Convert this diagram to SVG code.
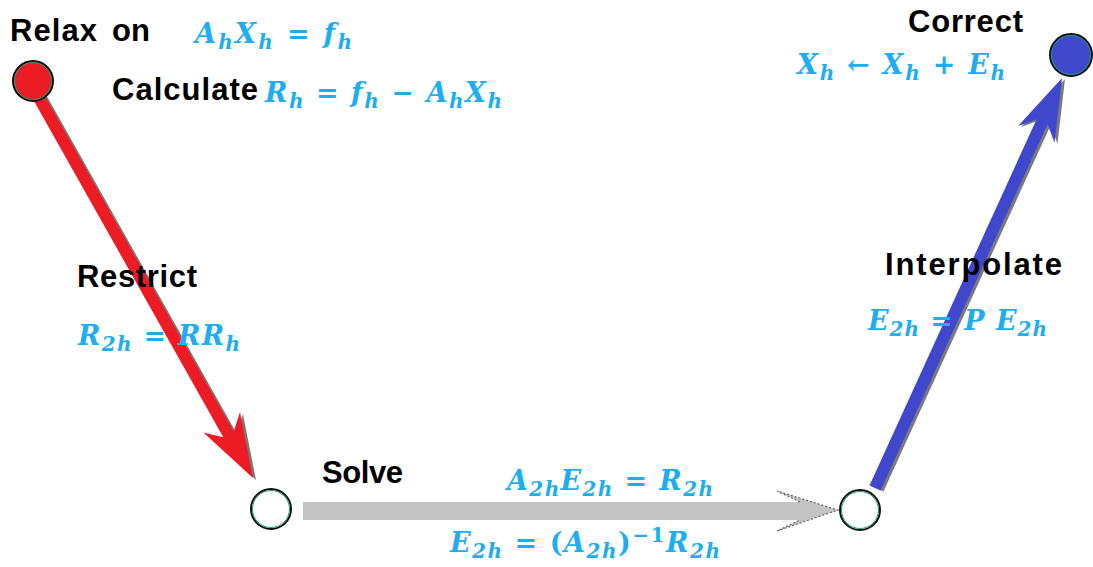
<svg xmlns="http://www.w3.org/2000/svg" width="1093" height="567" viewBox="0 0 1093 567">
<style>
.lbl{font-family:"Liberation Sans",Arial,sans-serif;font-weight:bold;font-size:31px;fill:#000}
.eq{font-family:"DejaVu Serif","Liberation Serif",serif;font-weight:bold;font-style:italic;font-size:27px;fill:#1eaef0}
.up{font-style:normal}
.s{font-size:20px}
.ring{stroke:#111;stroke-width:2}
.inner{fill:none;stroke:#1aa07a;stroke-width:1}
.shadow{fill:#7a7a7a}
</style>
<rect width="1093" height="567" fill="#fff"/>
<g id="connectors">
  <g id="restrict-arrow">
    <polygon class="shadow" transform="translate(3,2)" points="43.2,93.1 233.7,431.5 240,412 253,478 203.4,432.5 223.3,437.3 32.8,98.9"/>
    <polygon fill="#ed1c24" points="43.2,93.1 233.7,431.5 240,412 253,478 203.4,432.5 223.3,437.3 32.8,98.9"/>
  </g>
  <g id="solve-arrow">
    <polygon fill="#c3c3c3" points="303,502 800,502 777,491 838,510 777,531 800,520 303,520"/>
    <polyline fill="none" stroke="#666" stroke-width="1.2" stroke-dasharray="2,2" points="800,502 777,491 838,510 777,531 800,520"/>
  </g>
  <g id="interpolate-arrow">
    <polygon class="shadow" transform="translate(3,1)" points="869.5,485.5 1036.6,119.2 1018.1,126.1 1062,78 1054.5,142.7 1047.6,124.2 880.5,490.5"/>
    <polygon fill="#3f48cc" points="869.5,485.5 1036.6,119.2 1018.1,126.1 1062,78 1054.5,142.7 1047.6,124.2 880.5,490.5"/>
  </g>
</g>
<g id="node-relax">
  <circle class="ring" cx="33" cy="81" r="20" fill="#ed1c24"/>
  <circle class="inner" cx="33" cy="81" r="18.5"/>
</g>
<g id="node-coarse">
  <circle class="ring" cx="271" cy="509" r="20" fill="#fff"/>
  <circle class="inner" cx="271" cy="509" r="18.5"/>
</g>
<g id="node-fine">
  <circle class="ring" cx="860" cy="510" r="20" fill="#fff"/>
  <circle class="inner" cx="860" cy="510" r="18.5"/>
</g>
<g id="node-correct">
  <circle class="ring" cx="1071" cy="55" r="21" fill="#3f48cc"/>
  <circle class="inner" cx="1071" cy="55" r="19.5"/>
</g>
<g id="labels">
  <text class="lbl" x="10" y="41" textLength="87">Relax</text>
  <text class="lbl" x="112" y="41" textLength="38">on</text>
  <text class="lbl" x="112" y="100" textLength="146">Calculate</text>
  <text class="lbl" x="908" y="32" textLength="115">Correct</text>
  <text class="lbl" x="77" y="287" textLength="120">Restrict</text>
  <text class="lbl" x="322" y="483" textLength="81">Solve</text>
  <text class="lbl" x="885" y="275" textLength="177">Interpolate</text>
</g>
<g id="equations">
  <text class="eq" x="195" y="43" textLength="157">A<tspan class="s" dy="6">h</tspan><tspan dy="-6">X</tspan><tspan class="s" dy="6">h</tspan><tspan class="up" dy="-6"> = </tspan>f<tspan class="s" dy="6">h</tspan></text>
  <text class="eq" x="265" y="102" textLength="237">R<tspan class="s" dy="6">h</tspan><tspan class="up" dy="-6"> = </tspan>f<tspan class="s" dy="6">h</tspan><tspan class="up" dy="-6"> − </tspan>A<tspan class="s" dy="6">h</tspan><tspan dy="-6">X</tspan><tspan class="s" dy="6">h</tspan></text>
  <text class="eq" x="797" y="74" textLength="208">X<tspan class="s" dy="6">h</tspan><tspan class="up" dy="-6"> ← </tspan>X<tspan class="s" dy="6">h</tspan><tspan class="up" dy="-6"> + </tspan>E<tspan class="s" dy="6">h</tspan></text>
  <text class="eq" x="78" y="345" textLength="162">R<tspan class="s" dy="6">2h</tspan><tspan class="up" dy="-6"> = </tspan>RR<tspan class="s" dy="6">h</tspan></text>
  <text class="eq" x="507" y="490" textLength="206">A<tspan class="s" dy="6">2h</tspan><tspan dy="-6">E</tspan><tspan class="s" dy="6">2h</tspan><tspan class="up" dy="-6"> = </tspan>R<tspan class="s" dy="6">2h</tspan></text>
  <text class="eq" x="450" y="552" textLength="270">E<tspan class="s" dy="6">2h</tspan><tspan class="up" dy="-6"> = (</tspan>A<tspan class="s" dy="6">2h</tspan><tspan class="up" dy="-6">)</tspan><tspan class="s up" dy="-10">−1</tspan><tspan dy="10">R</tspan><tspan class="s" dy="6">2h</tspan></text>
  <text class="eq" x="868" y="330" textLength="179">E<tspan class="s" dy="6">2h</tspan><tspan class="up" dy="-6"> = </tspan>P E<tspan class="s" dy="6">2h</tspan></text>
</g>
</svg>
